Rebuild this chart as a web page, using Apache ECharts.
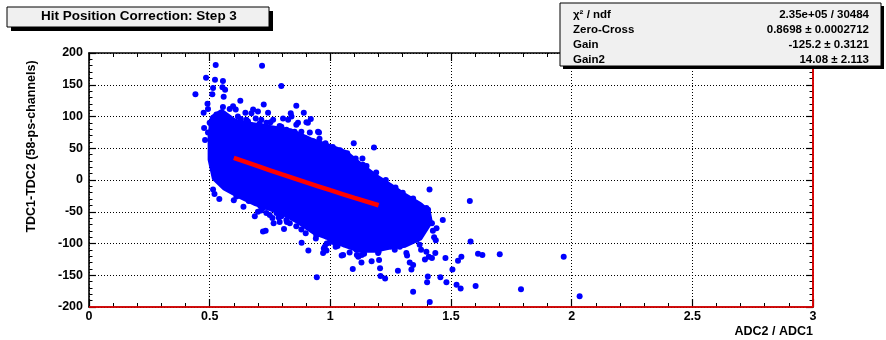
<!DOCTYPE html>
<html>
<head>
<meta charset="utf-8">
<script src="https://cdn.jsdelivr.net/npm/echarts@6/dist/echarts.min.js"></script>
<style>
  html, body { margin: 0; padding: 0; background: #ffffff; }
  #chart { width: 886px; height: 340px; }
</style>
</head>
<body>
<div id="chart"></div>
<script>
// Outline of the dense core of the hit distribution (ADC2/ADC1, TDC1-TDC2)
const coreX = [0.513, 0.550, 0.604, 0.666, 0.749, 0.832, 0.915, 0.998, 1.060, 1.122, 1.184, 1.246, 1.308, 1.370, 1.404, 1.412,
               1.370, 1.308, 1.246, 1.184, 1.122, 1.060, 0.998, 0.935, 0.873, 0.811, 0.749, 0.687, 0.625, 0.562, 0.521, 0.504, 0.504];
const coreY = [98, 107, 92, 87, 82, 77, 63, 52, 43, 24, 6, -9, -25, -39, -50, -66,
               -91, -102, -105, -110, -110, -102, -91, -82, -66, -53, -44, -36, -25, -12, 3, 32, 71];

// Individually resolved hits around the core
const hitX = [0.441, 0.485, 0.525, 0.522, 0.555, 0.514, 0.553, 0.564, 0.558, 0.717, 0.797, 0.475, 0.491, 0.493, 0.627,
              0.859, 0.511, 0.724, 0.555, 0.583, 0.597, 0.608, 0.648, 0.673, 0.700, 0.742, 0.836, 0.890, 0.528, 0.546,
              0.629, 0.652, 0.691, 0.714, 0.752, 0.804, 0.839, 0.901, 0.919, 0.477, 0.493, 0.481, 0.507, 0.521, 0.535,
              0.549, 0.590, 0.597, 0.632, 0.670, 0.707, 0.725, 0.770, 0.790, 0.818, 0.852, 0.915, 0.953, 0.859, 0.894,
              0.928, 1.097, 1.181, 1.133, 1.135, 1.094, 1.160, 1.177, 0.514, 0.521, 0.500, 0.680, 0.576, 0.617, 0.659,
              0.735, 0.763, 0.797, 0.825, 0.866, 0.907, 0.880, 0.949, 0.928, 0.811, 0.714, 0.659, 0.576, 0.521, 0.514,
              0.535, 0.562, 0.583, 0.611, 0.625, 0.645, 0.714, 0.721, 0.756, 0.777, 0.735, 0.687, 0.797, 0.818, 0.662,
              0.710, 0.713, 0.721, 0.732, 0.749, 0.765, 0.786, 0.790, 0.808, 0.823, 0.832, 0.859, 0.881, 0.898, 0.909,
              0.942, 0.944, 0.973, 0.984, 1.006, 1.022, 1.039, 1.047, 1.065, 1.075, 1.093, 1.094, 1.108, 1.116, 1.129,
              1.130, 1.150, 1.166, 1.171, 1.202, 1.206, 1.208, 1.227, 1.218, 1.232, 1.260, 1.274, 1.280, 1.301, 1.318,
              1.329, 1.336, 1.343, 1.343, 1.365, 1.372, 1.391, 1.405, 1.357, 1.370, 1.376, 1.392, 1.398, 1.408, 1.421,
              1.404, 1.401, 1.412, 1.411, 1.421, 1.437, 1.435, 1.456, 1.481, 1.466, 1.477, 1.506, 1.523, 1.540, 1.529,
              1.543, 1.578, 1.581, 1.602, 1.612, 1.630, 1.702, 1.967, 1.790, 2.033, 1.212, 1.242, 1.188, 1.253, 1.285,
              1.343, 1.318, 1.347, 1.361, 1.398, 1.370, 1.377, 1.280, 1.295, 1.301, 1.318, 1.322, 1.343, 1.357, 1.370,
              0.984, 0.995, 0.977, 0.970, 1.018, 1.135, 1.177, 1.198, 1.212, 1.232, 1.253, 1.267, 1.288, 1.315, 1.053,
              0.955, 0.980, 1.010, 1.040, 1.070, 1.105, 1.150, 1.190, 1.230, 1.270, 1.300, 1.340, 1.425, 1.430, 1.440,
              0.520, 0.540, 0.600, 0.640, 0.700, 0.760, 0.820, 0.880, 0.940, 0.985, 1.030, 1.080, 1.110, 1.140, 1.200];
const hitY = [135, 161, 181, 158, 156, 145, 146, 142, 131, 180, 148, 106, 120, 112, 125,
              117, 135, 119, 115, 112, 116, 111, 106, 105, 108, 106, 105, 106, 103, 97,
              96, 95, 97, 95, 91, 97, 100, 91, 96, 82, 75, 63, 87, 92, 95,
              100, 92, 84, 83, 86, 89, 83, 79, 85, 79, 76, 75, 75, 87, 66,
              56, 58, 51, 34, 24, 24, 7, 6, 69, 61, 90, 111, 97, 100, 92,
              90, 95, 84, 95, 90, 90, 76, 76, 61, 69, 76, 79, 84, 8, -15,
              0, -10, -10, -26, -15, -18, -31, -44, -42, -52, -52, -57, -57, -63, -33,
              -41, -48, -81, -80, -55, -68, -59, -66, -77, -56, -68, -73, -99, -84, -111,
              -87, -153, -108, -111, -93, -105, -96, -119, -84, -91, -140, -97, -110, -121, -130,
              -118, -105, -100, -128, -126, -139, -151, -155, -81, -93, -86, -102, -143, -102, -119,
              -130, -141, -134, -176, -58, -41, -62, -47, -84, -89, -110, -125, -113, -121, -123,
              -152, -161, -192, -15, -68, -95, -115, -153, -161, -63, -123, -141, -165, -171, -127,
              -121, -33, -97, -167, -116, -118, -117, -121, -172, -183, -12, -14, 1, -21, -26,
              -29, -37, -37, -46, -44, -55, -71, -57, -65, -76, -71, -81, -89, -94, -102,
              -89, -99, -105, -115, -99, -99, -105, -115, -94, -105, -99, -110, -105, -115, -118,
              65, 58, 52, 47, 42, 34, 22, 12, 0, -12, -20, -30, -80, -90, -76,
              -22, -30, -32, -42, -50, -60, -66, -78, -92, -100, -104, -114, -118, -116, -113];

// Fitted correction curve sampled over the fit range
const fitX = [0.60, 0.70, 0.80, 0.90, 1.00, 1.10, 1.20];
const fitY = [34.8, 21.7, 8.8, -3.8, -16.1, -28.1, -39.8];

// Part of the fit function that runs along the frame edge
const edgeX = [0, 3, 3];
const edgeY = [-200, -200, 200];

// Axis ticks
const xTicks = { min: 0, max: 3, step: 0.5 };
const yTicks = { min: -200, max: 200, step: 50 };

// Fit summary box rows
const statNames = ['\u03c7\u00b2 / ndf', 'Zero-Cross', 'Gain', 'Gain2'];
const statValues = ['2.35e+05 / 30484', '0.8698 \u00b1 0.0002712', '-125.2 \u00b1 0.3121', '14.08 \u00b1 2.113'];

const FONT = '"Liberation Sans", Arial, Helvetica, sans-serif';
const BLUE = '#0000ff';
const RED = '#ff0000';

const chart = echarts.init(document.getElementById('chart'), null, { renderer: 'canvas' });

const gridDots = { show: true, lineStyle: { color: '#000', width: 1, type: [1, 2] } };
const labelStyle = { color: '#000', fontFamily: FONT, fontWeight: 'bold', fontSize: 12.5 };

function xAxisDef(pos, withLabels) {
  return {
    type: 'value', position: pos, min: xTicks.min, max: xTicks.max, interval: xTicks.step,
    axisLine: { show: true, onZero: false, lineStyle: { color: '#000', width: 1.6 } },
    axisTick: { show: true, inside: true, length: 8, lineStyle: { color: '#000', width: 1.2 } },
    minorTick: { show: true, splitNumber: 5, length: 4, lineStyle: { color: '#000', width: 1 } },
    axisLabel: withLabels ? Object.assign({ show: true, margin: 3 }, labelStyle) : { show: false },
    splitLine: withLabels ? gridDots : { show: false }
  };
}
function yAxisDef(pos, withLabels) {
  return {
    type: 'value', position: pos, min: yTicks.min, max: yTicks.max, interval: yTicks.step,
    axisLine: { show: true, onZero: false, lineStyle: { color: '#000', width: 1.6 } },
    axisTick: { show: true, inside: true, length: 7, lineStyle: { color: '#000', width: 1.2 } },
    minorTick: { show: true, splitNumber: 5, length: 3.5, lineStyle: { color: '#000', width: 1 } },
    axisLabel: withLabels ? Object.assign({ show: true, margin: 6 }, labelStyle) : { show: false },
    splitLine: withLabels ? gridDots : { show: false }
  };
}

// Fit summary box graphics
const statBox = { left: 560, top: 3, width: 321, height: 63 };
const statGraphics = [
  { type: 'rect', z: 100, shape: { x: statBox.left + 3, y: statBox.top + 3, width: statBox.width, height: statBox.height },
    style: { fill: '#000' } },
  { type: 'rect', z: 101, shape: { x: statBox.left, y: statBox.top, width: statBox.width, height: statBox.height },
    style: { fill: '#f0f0f0', stroke: '#000', lineWidth: 1 } }
];
statNames.forEach(function (name, i) {
  const yMid = 14.5 + i * 15;
  statGraphics.push({ type: 'text', z: 102, x: 573, y: yMid,
    style: { text: name, fill: '#000', font: 'bold 11.5px ' + FONT, textAlign: 'left', textVerticalAlign: 'middle' } });
  statGraphics.push({ type: 'text', z: 102, x: 869, y: yMid,
    style: { text: statValues[i], fill: '#000', font: 'bold 11.5px ' + FONT, textAlign: 'right', textVerticalAlign: 'middle' } });
});

chart.setOption({
  backgroundColor: '#ffffff',
  animation: false,
  grid: { left: 89, right: 73, top: 53, bottom: 33, containLabel: false },
  xAxis: [xAxisDef('bottom', true), xAxisDef('top', false)],
  yAxis: [yAxisDef('left', true), yAxisDef('right', false)],
  series: [
    {
      // dense core of the distribution
      type: 'custom', xAxisIndex: 0, yAxisIndex: 0, z: 2,
      data: [[coreX[0], coreY[0]]],
      renderItem: function (params, api) {
        const pts = coreX.map(function (x, i) { return api.coord([x, coreY[i]]); });
        return { type: 'polygon', shape: { points: pts },
                 style: { fill: BLUE, stroke: BLUE, lineWidth: 6, lineJoin: 'round' } };
      }
    },
    {
      type: 'scatter', xAxisIndex: 0, yAxisIndex: 0, z: 3,
      symbol: 'circle', symbolSize: 6,
      itemStyle: { color: BLUE, opacity: 1 },
      data: hitX.map(function (x, i) { return [x, hitY[i]]; })
    },
    {
      type: 'line', xAxisIndex: 0, yAxisIndex: 0, z: 4,
      showSymbol: false, smooth: true,
      lineStyle: { color: RED, width: 4.5 },
      data: fitX.map(function (x, i) { return [x, fitY[i]]; })
    },
    {
      type: 'line', xAxisIndex: 0, yAxisIndex: 0, z: 4, clip: false,
      showSymbol: false,
      lineStyle: { color: RED, width: 1.6 },
      data: edgeX.map(function (x, i) { return [x, edgeY[i]]; })
    }
  ],
  graphic: [
    // title box with drop shadow
    { type: 'rect', z: 100, shape: { x: 11, y: 11, width: 262, height: 20 }, style: { fill: '#000' } },
    { type: 'rect', z: 101, shape: { x: 7, y: 7, width: 262, height: 20 },
      style: { fill: '#f0f0f0', stroke: '#000', lineWidth: 1 } },
    { type: 'text', z: 102, x: 139, y: 16.5,
      style: { text: 'Hit Position Correction: Step 3', fill: '#000', font: 'bold 13.5px ' + FONT,
               textAlign: 'center', textVerticalAlign: 'middle' } },
    // axis titles
    { type: 'text', z: 102, x: 32, y: 146.5, rotation: Math.PI / 2,
      style: { text: 'TDC1-TDC2 (58-ps-channels)', fill: '#000', font: 'bold 12.5px ' + FONT,
               textAlign: 'center', textVerticalAlign: 'middle' } },
    { type: 'text', z: 102, x: 813, y: 331.5,
      style: { text: 'ADC2 / ADC1', fill: '#000', font: 'bold 12.5px ' + FONT,
               textAlign: 'right', textVerticalAlign: 'middle' } }
  ].concat(statGraphics)
});
</script>
</body>
</html>
